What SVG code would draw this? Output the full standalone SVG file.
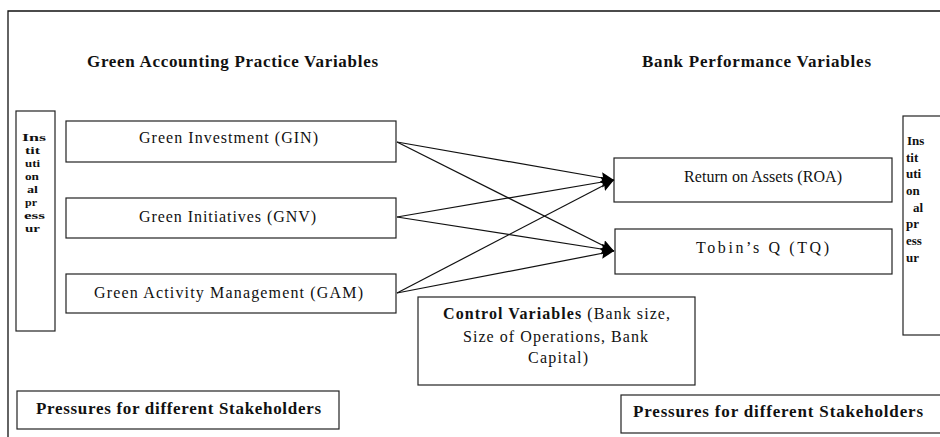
<svg xmlns="http://www.w3.org/2000/svg" width="940" height="437" viewBox="0 0 940 437">
<defs>
<style>
.box{fill:#fff;stroke:#222;stroke-width:1.2}
.t{font-family:"Liberation Serif","Times New Roman",serif;font-size:16px;fill:#111}
.b{font-family:"Liberation Serif","Times New Roman",serif;font-weight:bold;fill:#111}
.h{font-size:17px}
.v{font-size:13px}
.s{font-size:11px}
.p{font-size:17px}
.c{stroke:#111;stroke-width:1.2;fill:none}
</style>
<marker id="ah" markerUnits="userSpaceOnUse" viewBox="0 0 13 11" refX="13" refY="5.5" markerWidth="13" markerHeight="11" orient="auto">
<path d="M0,0 L13,5.5 L0,11 L2,5.5 z" fill="#000"/>
</marker>
</defs>
<rect width="940" height="437" fill="#fff"/>
<path d="M8,437 L8,11 L940,11" fill="none" stroke="#111" stroke-width="1.3"/>

<g id="title-left"><text class="b h" x="87" y="67" textLength="291" lengthAdjust="spacing">Green Accounting Practice Variables</text></g>
<g id="title-right"><text class="b h" x="642" y="67" textLength="229" lengthAdjust="spacing">Bank Performance Variables</text></g>

<g id="inst-left">
<rect class="box" x="16" y="111" width="39" height="220"/>
<text class="b s" x="22" y="141" textLength="24" lengthAdjust="spacingAndGlyphs">Ins</text>
<text class="b s" x="25" y="154" textLength="15" lengthAdjust="spacingAndGlyphs">tit</text>
<text class="b s" x="25" y="167" textLength="15" lengthAdjust="spacingAndGlyphs">uti</text>
<text class="b s" x="25" y="180" textLength="14" lengthAdjust="spacingAndGlyphs">on</text>
<text class="b s" x="27" y="193" textLength="11" lengthAdjust="spacingAndGlyphs">al</text>
<text class="b s" x="25" y="206" textLength="12" lengthAdjust="spacingAndGlyphs">pr</text>
<text class="b s" x="24" y="219" textLength="21" lengthAdjust="spacingAndGlyphs">ess</text>
<text class="b s" x="25" y="232" textLength="15" lengthAdjust="spacingAndGlyphs">ur</text>
</g>

<g id="inst-right">
<rect class="box" x="903" y="116" width="60" height="219"/>
<text class="b v" x="907" y="145">Ins</text>
<text class="b v" x="906" y="162">tit</text>
<text class="b v" x="906" y="178">uti</text>
<text class="b v" x="906" y="195">on</text>
<text class="b v" x="913" y="212">al</text>
<text class="b v" x="906" y="228">pr</text>
<text class="b v" x="906" y="245">ess</text>
<text class="b v" x="906" y="262">ur</text>
</g>

<g id="gin">
<rect class="box" x="66" y="121" width="330" height="41"/>
<text class="t" x="139" y="143" textLength="179" lengthAdjust="spacing">Green Investment (GIN)</text>
</g>
<g id="gnv">
<rect class="box" x="66" y="198" width="330" height="40"/>
<text class="t" x="139" y="222" textLength="177" lengthAdjust="spacing">Green Initiatives (GNV)</text>
</g>
<g id="gam">
<rect class="box" x="66" y="274" width="330" height="39"/>
<text class="t" x="94" y="298" textLength="269" lengthAdjust="spacing">Green Activity Management (GAM)</text>
</g>

<g id="roa">
<rect class="box" x="614" y="158" width="278" height="44"/>
<text class="t" x="684" y="182" textLength="158" lengthAdjust="spacing">Return on Assets (ROA)</text>
</g>
<g id="tq">
<rect class="box" x="615" y="229" width="277" height="45"/>
<text class="t" x="696" y="253" textLength="133" lengthAdjust="spacing">Tobin’s Q (TQ)</text>
</g>

<g id="control">
<rect class="box" x="418" y="297" width="277" height="88"/>
<text class="t" x="443" y="319" textLength="227" lengthAdjust="spacing"><tspan font-weight="bold">Control Variables</tspan> (Bank size,</text>
<text class="t" x="463" y="342" textLength="185" lengthAdjust="spacing">Size of Operations, Bank</text>
<text class="t" x="528" y="363" textLength="60" lengthAdjust="spacing">Capital)</text>
</g>

<g id="press-left">
<rect class="box" x="17" y="391" width="322" height="38"/>
<text class="b p" x="36" y="414" textLength="285" lengthAdjust="spacing">Pressures for different Stakeholders</text>
</g>
<g id="press-right">
<rect class="box" x="621" y="395" width="340" height="38"/>
<text class="b p" x="633" y="417" textLength="290" lengthAdjust="spacing">Pressures for different Stakeholders</text>
</g>

<g id="connectors">
<line class="c" x1="397" y1="142" x2="614" y2="180" marker-end="url(#ah)"/>
<line class="c" x1="397" y1="142" x2="614" y2="251" marker-end="url(#ah)"/>
<line class="c" x1="397" y1="217" x2="614" y2="180" marker-end="url(#ah)"/>
<line class="c" x1="397" y1="217" x2="614" y2="251" marker-end="url(#ah)"/>
<line class="c" x1="397" y1="293" x2="614" y2="180" marker-end="url(#ah)"/>
<line class="c" x1="397" y1="293" x2="614" y2="251" marker-end="url(#ah)"/>
</g>
</svg>
